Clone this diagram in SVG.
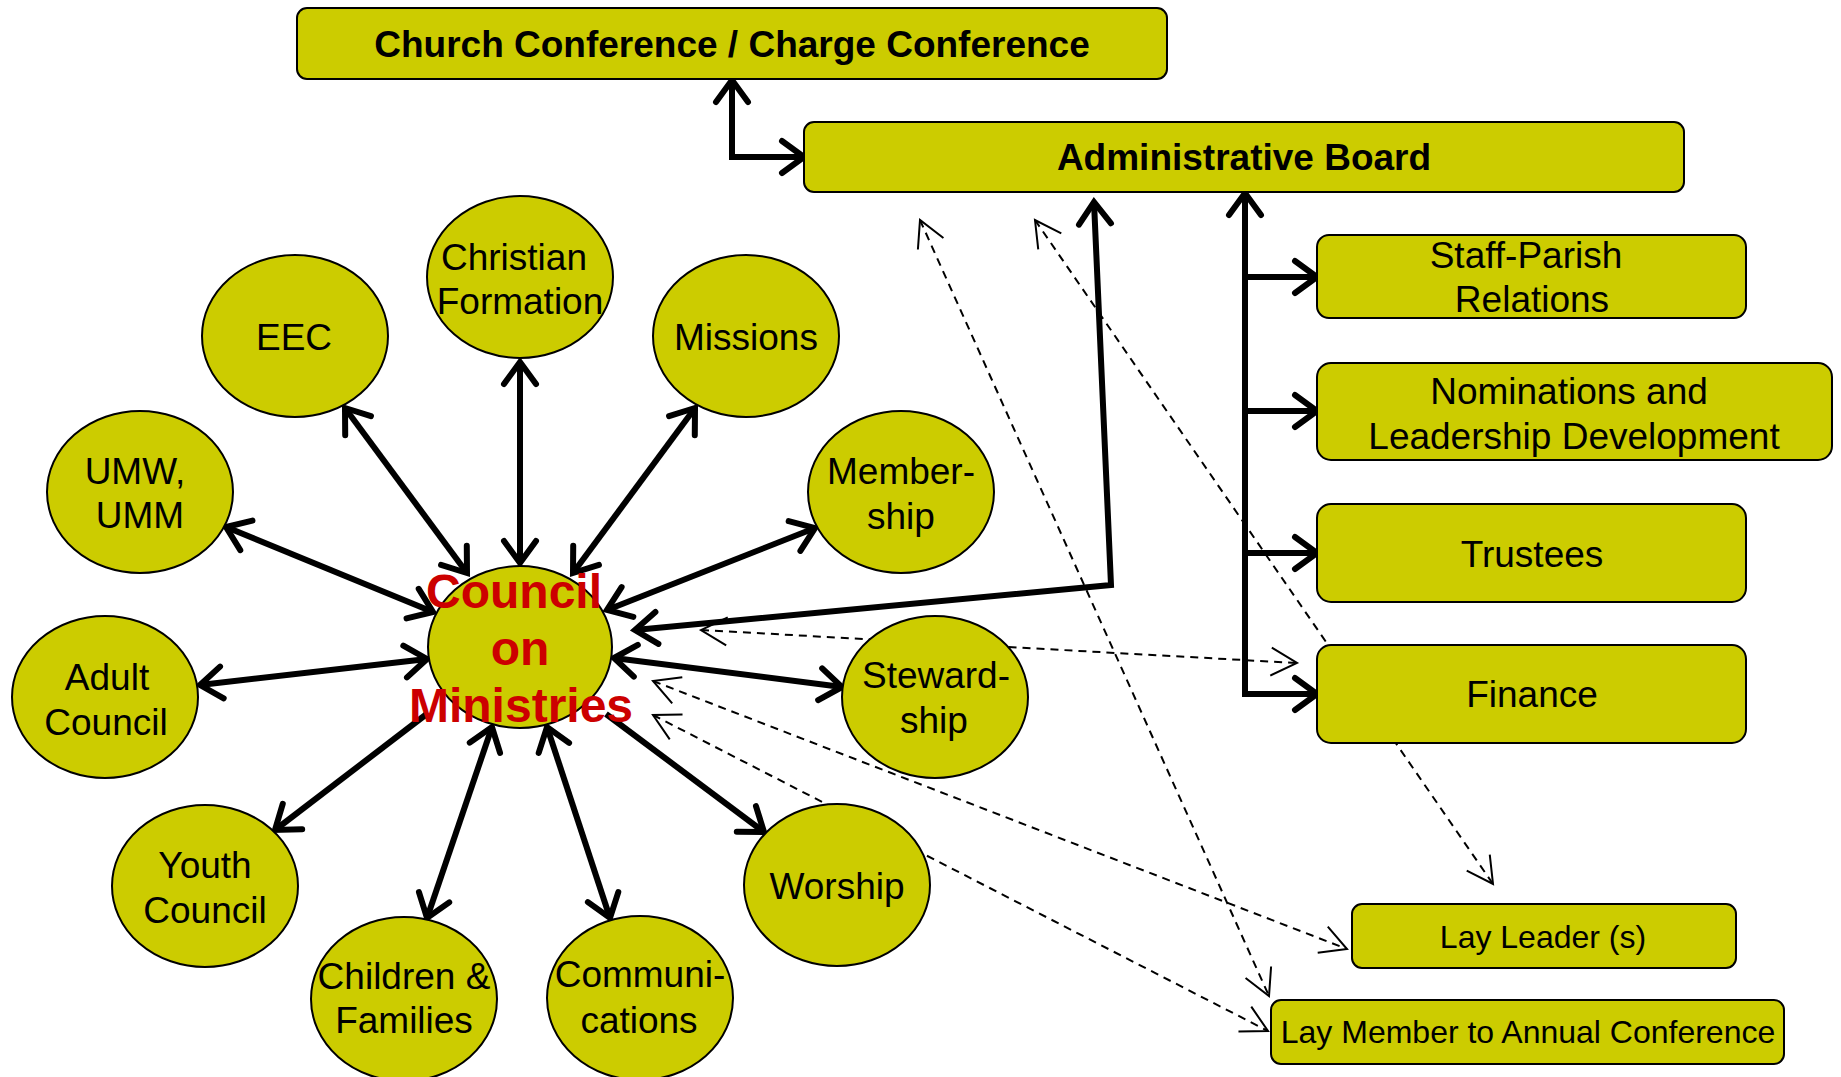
<svg xmlns="http://www.w3.org/2000/svg" width="1841" height="1077" viewBox="0 0 1841 1077">
<style>
.box{fill:#CCCC00;stroke:#000;stroke-width:2}
.ell{fill:#CCCC00;stroke:#000;stroke-width:2}
.t{font-family:"Liberation Sans",Arial,sans-serif;font-size:37px;fill:#000;text-anchor:middle}
.tb{font-family:"Liberation Sans",Arial,sans-serif;font-size:37px;font-weight:bold;fill:#000;text-anchor:middle}
.ts{font-family:"Liberation Sans",Arial,sans-serif;font-size:32px;fill:#000;text-anchor:middle}
.tr{font-family:"Liberation Sans",Arial,sans-serif;font-size:48px;font-weight:bold;fill:#CC0000;text-anchor:middle}
.sol{fill:none;stroke:#000;stroke-width:6;stroke-linejoin:miter}
.solb{fill:none;stroke:#000;stroke-width:6;marker-start:url(#ah);marker-end:url(#ah)}
.sole{fill:none;stroke:#000;stroke-width:6;marker-end:url(#ah)}
.dash{fill:none;stroke:#000;stroke-width:2;stroke-dasharray:8 6;marker-start:url(#dh);marker-end:url(#dh)}
</style>
<defs>
<marker id="ah" markerUnits="userSpaceOnUse" orient="auto-start-reverse" overflow="visible" markerWidth="1" markerHeight="1" refX="0" refY="0">
<path d="M-22,-16 L0,0 L-22,16" fill="none" stroke="#000" stroke-width="6" stroke-linecap="round" stroke-linejoin="miter"/>
</marker>
<marker id="dh" markerUnits="userSpaceOnUse" orient="auto-start-reverse" overflow="visible" markerWidth="1" markerHeight="1" refX="0" refY="0">
<path d="M-26,-14 L0,0 L-26,14" fill="none" stroke="#000" stroke-width="2"/>
</marker>
</defs>
<rect width="1841" height="1077" fill="#fff"/>

<g id="connectors">
<path class="dash" d="M701,630 L1297,663"/>
<path class="dash" d="M653,681 L1347,949"/>
<path class="dash" d="M653,715 L1268,1031"/>
<path class="dash" d="M920,220 L1269,996"/>
<path class="dash" d="M1035,220 L1493,884"/>
<path class="solb" d="M732,80 L732,157 L804,157"/>
<path class="solb" d="M1245,193 L1245,694 L1317,694"/>
<path class="sole" d="M1245,277 L1317,277"/>
<path class="sole" d="M1245,411 L1317,411"/>
<path class="sole" d="M1245,553 L1317,553"/>
<path class="solb" d="M635,630 L1111,585 L1094,202"/>
<path class="solb" d="M520,563 L520,362"/>
<path class="solb" d="M467,573 L345,408"/>
<path class="solb" d="M573,573 L695,408"/>
<path class="solb" d="M433,612 L226,527"/>
<path class="solb" d="M607,610 L815,528"/>
<path class="solb" d="M427,659 L200,685"/>
<path class="solb" d="M614,658 L842,687"/>
<path class="sole" d="M428,713 L275,830"/>
<path class="sole" d="M606,714 L764,832"/>
<path class="solb" d="M492,727 L427,918"/>
<path class="solb" d="M547,727 L610,918"/>
</g>

<g id="church-conference"><rect class="box" x="297" y="8" width="870" height="71" rx="10"/><text class="tb" x="732" y="57">Church Conference / Charge Conference</text></g>
<g id="administrative-board"><rect class="box" x="804" y="122" width="880" height="70" rx="10"/><text class="tb" x="1244" y="170">Administrative Board</text></g>
<g id="staff-parish"><rect class="box" x="1317" y="235" width="429" height="83" rx="12"/><text class="t" x="1526" y="268">Staff-Parish</text><text class="t" x="1532" y="312">Relations</text></g>
<g id="nominations"><rect class="box" x="1317" y="363" width="515" height="97" rx="14"/><text class="t" x="1569" y="404">Nominations and</text><text class="t" x="1574" y="449">Leadership Development</text></g>
<g id="trustees"><rect class="box" x="1317" y="504" width="429" height="98" rx="14"/><text class="t" x="1532" y="567">Trustees</text></g>
<g id="finance"><rect class="box" x="1317" y="645" width="429" height="98" rx="14"/><text class="t" x="1532" y="707">Finance</text></g>
<g id="lay-leader"><rect class="box" x="1352" y="904" width="384" height="64" rx="10"/><text class="ts" x="1543" y="948">Lay Leader (s)</text></g>
<g id="lay-member"><rect class="box" x="1271" y="1000" width="513" height="64" rx="10"/><text class="ts" x="1528" y="1043">Lay Member to Annual Conference</text></g>

<g id="christian-formation"><ellipse class="ell" cx="520" cy="277" rx="93" ry="81"/><text class="t" x="514" y="270">Christian</text><text class="t" x="520" y="314">Formation</text></g>
<g id="eec"><ellipse class="ell" cx="295" cy="336" rx="93" ry="81"/><text class="t" x="294" y="350">EEC</text></g>
<g id="umw-umm"><ellipse class="ell" cx="140" cy="492" rx="93" ry="81"/><text class="t" x="135" y="484">UMW,</text><text class="t" x="140" y="528">UMM</text></g>
<g id="missions"><ellipse class="ell" cx="746" cy="336" rx="93" ry="81"/><text class="t" x="746" y="350">Missions</text></g>
<g id="membership"><ellipse class="ell" cx="901" cy="492" rx="93" ry="81"/><text class="t" x="901" y="484">Member-</text><text class="t" x="901" y="529">ship</text></g>
<g id="adult-council"><ellipse class="ell" cx="105" cy="697" rx="93" ry="81"/><text class="t" x="107" y="690">Adult</text><text class="t" x="106" y="735">Council</text></g>
<g id="stewardship"><ellipse class="ell" cx="935" cy="697" rx="93" ry="81"/><text class="t" x="936" y="688">Steward-</text><text class="t" x="934" y="733">ship</text></g>
<g id="youth-council"><ellipse class="ell" cx="205" cy="886" rx="93" ry="81"/><text class="t" x="205" y="878">Youth</text><text class="t" x="205" y="923">Council</text></g>
<g id="children-families"><ellipse class="ell" cx="404" cy="999" rx="93" ry="82"/><text class="t" x="404" y="989">Children &amp;</text><text class="t" x="404" y="1033">Families</text></g>
<g id="communications"><ellipse class="ell" cx="640" cy="998" rx="93" ry="82"/><text class="t" x="640" y="987">Communi-</text><text class="t" x="639" y="1033">cations</text></g>
<g id="worship"><ellipse class="ell" cx="837" cy="885" rx="93" ry="81"/><text class="t" x="837" y="899">Worship</text></g>
<g id="council-on-ministries"><ellipse class="ell" cx="520" cy="647" rx="92" ry="81"/><text class="tr" x="514" y="608">Council</text><text class="tr" x="520" y="665">on</text><text class="tr" x="521" y="722">Ministries</text></g>
</svg>
